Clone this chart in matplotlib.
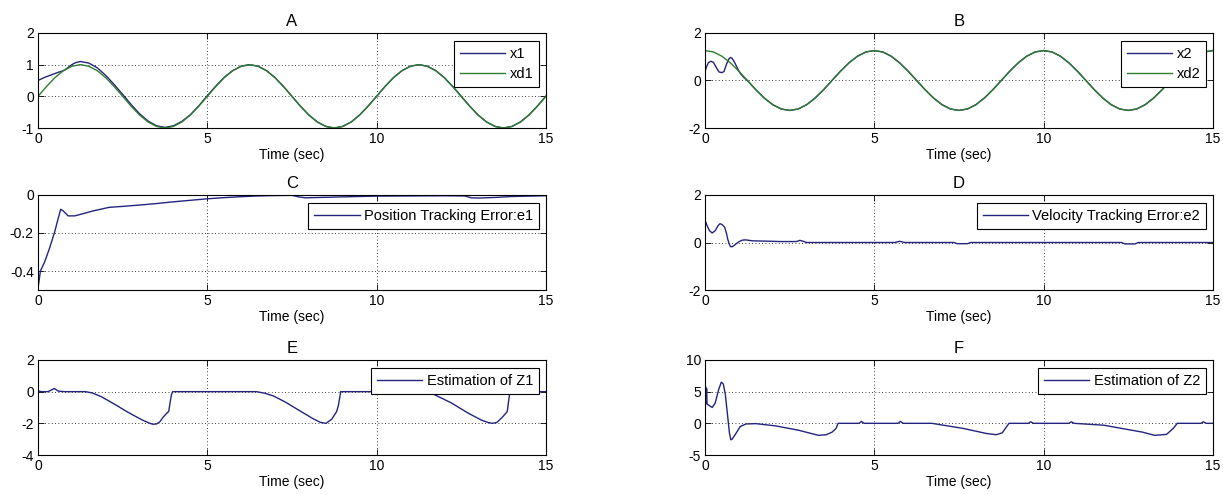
import matplotlib
matplotlib.use("Agg")
import matplotlib.pyplot as plt
from matplotlib.ticker import FuncFormatter

# ---- data ----
# common sample times for the reference sinusoids
t_grid = [0.0, 0.25, 0.5, 0.75, 1.0, 1.25, 1.5, 1.75, 2.0, 2.25, 2.5, 2.75, 3.0, 3.25, 3.5,
          3.75, 4.0, 4.25, 4.5, 4.75, 5.0, 5.25, 5.5, 5.75, 6.0, 6.25, 6.5, 6.75, 7.0, 7.25,
          7.5, 7.75, 8.0, 8.25, 8.5, 8.75, 9.0, 9.25, 9.5, 9.75, 10.0, 10.25, 10.5, 10.75,
          11.0, 11.25, 11.5, 11.75, 12.0, 12.25, 12.5, 12.75, 13.0, 13.25, 13.5, 13.75, 14.0,
          14.25, 14.5, 14.75, 15.0]

xd1 = [0.0, 0.31, 0.59, 0.81, 0.95, 1.0, 0.95, 0.81, 0.59, 0.31, 0.0, -0.31, -0.59, -0.81,
       -0.95, -1.0, -0.95, -0.81, -0.59, -0.31, 0.0, 0.31, 0.59, 0.81, 0.95, 1.0, 0.95, 0.81,
       0.59, 0.31, 0.0, -0.31, -0.59, -0.81, -0.95, -1.0, -0.95, -0.81, -0.59, -0.31, 0.0,
       0.31, 0.59, 0.81, 0.95, 1.0, 0.95, 0.81, 0.59, 0.31, 0.0, -0.31, -0.59, -0.81, -0.95,
       -1.0, -0.95, -0.81, -0.59, -0.31, 0.0]

xd2 = [1.26, 1.2, 1.02, 0.74, 0.39, 0.0, -0.39, -0.74, -1.02, -1.2, -1.26, -1.2, -1.02, -0.74,
       -0.39, 0.0, 0.39, 0.74, 1.02, 1.2, 1.26, 1.2, 1.02, 0.74, 0.39, 0.0, -0.39, -0.74, -1.02,
       -1.2, -1.26, -1.2, -1.02, -0.74, -0.39, 0.0, 0.39, 0.74, 1.02, 1.2, 1.26, 1.2, 1.02,
       0.74, 0.39, 0.0, -0.39, -0.74, -1.02, -1.2, -1.26, -1.2, -1.02, -0.74, -0.39, 0.0,
       0.39, 0.74, 1.02, 1.2, 1.26]

t_x1 = [0.0, 0.1, 0.2, 0.3, 0.4, 0.5, 0.6, 0.7, 0.8, 0.9, 1.0, 1.1, 1.25, 1.5, 1.75, 2.0,
        2.25, 2.5, 2.75, 3.0, 3.25, 3.5, 3.75, 4.0, 4.25, 4.5, 4.75, 5.0, 5.25, 5.5, 5.75,
        6.0, 6.25, 6.5, 6.75, 7.0, 7.25, 7.5, 7.75, 8.0, 8.25, 8.5, 8.75, 9.0, 9.25, 9.5,
        9.75, 10.0, 10.25, 10.5, 10.75, 11.0, 11.25, 11.5, 11.75, 12.0, 12.25, 12.5, 12.75,
        13.0, 13.25, 13.5, 13.75, 14.0, 14.25, 14.5, 14.75, 15.0]
x1 = [0.5, 0.55, 0.6, 0.64, 0.68, 0.72, 0.76, 0.79, 0.84, 0.92, 1.0, 1.06, 1.1, 1.05, 0.9,
      0.66, 0.37, 0.06, -0.26, -0.55, -0.78, -0.93, -0.98, -0.93, -0.79, -0.58, -0.3, 0.02,
      0.32, 0.6, 0.81, 0.95, 1.0, 0.95, 0.81, 0.59, 0.31, 0.0, -0.31, -0.59, -0.81, -0.95,
      -1.0, -0.95, -0.81, -0.59, -0.31, 0.0, 0.31, 0.59, 0.81, 0.95, 1.0, 0.95, 0.81, 0.59,
      0.31, 0.0, -0.31, -0.59, -0.81, -0.95, -1.0, -0.95, -0.81, -0.59, -0.31, 0.0]

t_x2 = [0.0, 0.05, 0.1, 0.17, 0.25, 0.33, 0.41, 0.5, 0.56, 0.63, 0.7, 0.75, 0.8, 0.88, 0.96,
        1.05, 1.15, 1.25, 1.5, 1.75, 2.0, 2.25, 2.5, 2.75, 3.0, 3.25, 3.5, 3.75, 4.0, 4.25,
        4.5, 4.75, 5.0, 5.25, 5.5, 5.75, 6.0, 6.25, 6.5, 6.75, 7.0, 7.25, 7.5, 7.75, 8.0,
        8.25, 8.5, 8.75, 9.0, 9.25, 9.5, 9.75, 10.0, 10.25, 10.5, 10.75, 11.0, 11.25, 11.5,
        11.75, 12.0, 12.25, 12.5, 12.75, 13.0, 13.25, 13.5, 13.75, 14.0, 14.25, 14.5, 14.75,
        15.0]
x2 = [0.39, 0.6, 0.75, 0.81, 0.76, 0.55, 0.36, 0.33, 0.38, 0.67, 0.9, 0.97, 0.93, 0.74, 0.5,
      0.28, 0.12, 0.0, -0.39, -0.74, -1.02, -1.2, -1.26, -1.2, -1.02, -0.74, -0.39, 0.0,
      0.39, 0.74, 1.02, 1.2, 1.26, 1.2, 1.02, 0.74, 0.39, 0.0, -0.39, -0.74, -1.02, -1.2,
      -1.26, -1.2, -1.02, -0.74, -0.39, 0.0, 0.39, 0.74, 1.02, 1.2, 1.26, 1.2, 1.02, 0.74,
      0.39, 0.0, -0.39, -0.74, -1.02, -1.2, -1.26, -1.2, -1.02, -0.74, -0.39, 0.0, 0.39,
      0.74, 1.02, 1.2, 1.26]

t_e1 = [0.0, 0.07, 0.2, 0.34, 0.49, 0.6, 0.67, 0.75, 0.89, 1.08, 1.3, 1.6, 2.1, 2.5, 3.0,
        3.5, 4.0, 4.5, 5.0, 5.5, 6.0, 6.5, 7.0, 7.5, 7.7, 7.9, 8.3, 9.0, 10.0, 11.0, 12.0,
        12.6, 12.8, 13.0, 13.5, 14.0, 15.0]
e1 = [-0.49, -0.40, -0.35, -0.28, -0.195, -0.12, -0.075, -0.085, -0.11, -0.11, -0.1, -0.085,
      -0.065, -0.06, -0.053, -0.045, -0.036, -0.028, -0.02, -0.014, -0.009, -0.005, -0.003,
      -0.002, -0.01, -0.015, -0.013, -0.01, -0.006, -0.005, -0.004, -0.005, -0.015, -0.016,
      -0.013, -0.008, -0.004]

t_e2 = [0.0, 0.06, 0.13, 0.21, 0.3, 0.38, 0.44, 0.5, 0.58, 0.63, 0.67, 0.71, 0.75, 0.8, 0.87,
        0.95, 1.0, 1.1, 1.2, 1.4, 1.7, 2.0, 2.2, 2.7, 2.8, 2.9, 3.0, 5.6, 5.75, 5.9, 7.35,
        7.45, 7.75, 7.85, 12.3, 12.4, 12.7, 12.8, 15.0]
e2 = [0.93, 0.71, 0.5, 0.4, 0.5, 0.7, 0.79, 0.76, 0.64, 0.4, 0.14, -0.05, -0.17, -0.18,
      -0.11, -0.02, 0.03, 0.1, 0.11, 0.07, 0.06, 0.05, 0.04, 0.04, 0.09, 0.05, 0.0, 0.0, 0.05,
      0.0, 0.0, -0.05, -0.05, 0.0, 0.0, -0.06, -0.06, 0.0, 0.0]

t_z1 = [0.0, 0.1, 0.3, 0.48, 0.6, 0.8, 1.4, 1.6, 1.87, 2.1, 2.33, 2.55, 2.8, 3.0, 3.14, 3.3,
        3.4, 3.5, 3.6, 3.7, 3.8, 3.86, 3.9, 3.94, 3.98, 6.45, 6.7, 6.95, 7.3, 7.64, 7.9, 8.1,
        8.34, 8.51, 8.68, 8.82, 8.87, 8.91, 8.94, 11.45, 11.69, 12.2, 12.7, 13.1, 13.3, 13.42,
        13.55, 13.7, 13.86, 13.9, 13.94, 15.0]
z1 = [0.05, 0.0, 0.0, 0.2, 0.03, 0.0, 0.0, -0.08, -0.32, -0.6, -0.88, -1.17, -1.47, -1.7,
      -1.85, -2.0, -2.06, -2.04, -1.9, -1.6, -1.37, -1.25, -0.7, -0.2, 0.0, 0.0, -0.1, -0.27,
      -0.65, -1.09, -1.42, -1.68, -1.94, -2.0, -1.73, -1.26, -0.9, -0.4, 0.0, 0.0, -0.17,
      -0.7, -1.35, -1.8, -1.95, -2.0, -1.95, -1.65, -1.26, -0.6, 0.0, 0.0]

t_z2 = [0.0, 0.015, 0.03, 0.045, 0.06, 0.1, 0.21, 0.3, 0.4, 0.48, 0.54, 0.6, 0.67, 0.72,
        0.76, 0.8, 0.9, 1.04, 1.21, 1.5, 2.08, 2.77, 3.35, 3.58, 3.75, 3.87, 3.93, 4.55, 4.62,
        4.7, 5.7, 5.77, 5.85, 6.7, 7.62, 8.31, 8.6, 8.78, 8.91, 8.98, 9.55, 9.62, 9.7, 10.75,
        10.82, 10.9, 11.78, 12.93, 13.28, 13.63, 13.83, 13.95, 14.65, 14.72, 14.8, 15.0]
z2 = [4.8, 5.8, 3.2, 5.5, 3.0, 2.9, 2.5, 3.2, 5.3, 6.5, 6.2, 4.5, 1.0, -1.5, -2.6, -2.5,
      -1.7, -0.5, -0.1, -0.05, -0.4, -1.1, -1.9, -1.8, -1.4, -0.8, 0.0, 0.0, 0.3, 0.0, 0.0,
      0.3, 0.0, 0.0, -0.8, -1.6, -1.8, -1.5, -0.5, 0.0, 0.0, 0.25, 0.0, 0.0, 0.25, 0.0,
      -0.3, -1.4, -1.9, -1.75, -0.8, 0.0, 0.0, 0.25, 0.0, 0.0]

x_ticks = [0, 5, 10, 15]
BLUE = "#24247e"
GREEN = "#2f7d2f"

plt.rcParams["font.family"] = ["Liberation Sans", "DejaVu Sans"]
plt.rcParams["font.size"] = 10
plt.rcParams["axes.unicode_minus"] = False


def style_axes(ax, ylim, yticks, title):
    ax.set_xlim(0, 15)
    ax.set_ylim(*ylim)
    ax.set_xticks(x_ticks)
    ax.set_yticks(yticks)
    ax.yaxis.set_major_formatter(FuncFormatter(lambda v, p: f"{v:g}"))
    ax.grid(True, color="black", linestyle=(0, (1, 3)), linewidth=0.6)
    ax.tick_params(direction="in", top=True, right=True, length=4, width=0.6, pad=3)
    for sp in ax.spines.values():
        sp.set_linewidth(0.8)
    ax.set_title(title, pad=5)
    ax.set_xlabel("Time (sec)", labelpad=1)


def add_legend(ax):
    leg = ax.legend(loc="upper right", bbox_to_anchor=(0.987, 0.915), borderaxespad=0,
                    fancybox=False, edgecolor="black", framealpha=1, handlelength=3.1,
                    handletextpad=0.3, borderpad=0.42, labelspacing=0.4, fontsize=10.5)
    leg.get_frame().set_linewidth(0.8)


fig = plt.figure(figsize=(12.23, 4.95), dpi=100)
lefts = [0.0311, 0.5765]
width = 0.4152
height = 0.192
bottoms = [0.7414, 0.4141, 0.0808]

ax_a = fig.add_axes([lefts[0], bottoms[0], width, height])
ax_b = fig.add_axes([lefts[1], bottoms[0], width, height])
ax_c = fig.add_axes([lefts[0], bottoms[1], width, height])
ax_d = fig.add_axes([lefts[1], bottoms[1], width, height])
ax_e = fig.add_axes([lefts[0], bottoms[2], width, height])
ax_f = fig.add_axes([lefts[1], bottoms[2], width, height])

ax_a.plot(t_x1, x1, color=BLUE, lw=1.0, label="x1")
ax_a.plot(t_grid, xd1, color=GREEN, lw=1.0, label="xd1")
style_axes(ax_a, (-1, 2), [-1, 0, 1, 2], "A")
add_legend(ax_a)

ax_b.plot(t_x2, x2, color=BLUE, lw=1.0, label="x2")
ax_b.plot(t_grid, xd2, color=GREEN, lw=1.0, label="xd2")
style_axes(ax_b, (-2, 2), [-2, 0, 2], "B")
add_legend(ax_b)

ax_c.plot(t_e1, e1, color=BLUE, lw=1.0, label="Position Tracking Error:e1")
style_axes(ax_c, (-0.5, 0), [-0.4, -0.2, 0], "C")
add_legend(ax_c)

ax_d.plot(t_e2, e2, color=BLUE, lw=1.0, label="Velocity Tracking Error:e2")
style_axes(ax_d, (-2, 2), [-2, 0, 2], "D")
add_legend(ax_d)

ax_e.plot(t_z1, z1, color=BLUE, lw=1.0, label="Estimation of Z1")
style_axes(ax_e, (-4, 2), [-4, -2, 0, 2], "E")
add_legend(ax_e)

ax_f.plot(t_z2, z2, color=BLUE, lw=1.0, label="Estimation of Z2")
style_axes(ax_f, (-5, 10), [-5, 0, 5, 10], "F")
add_legend(ax_f)

fig.savefig("out.png", dpi=100)
